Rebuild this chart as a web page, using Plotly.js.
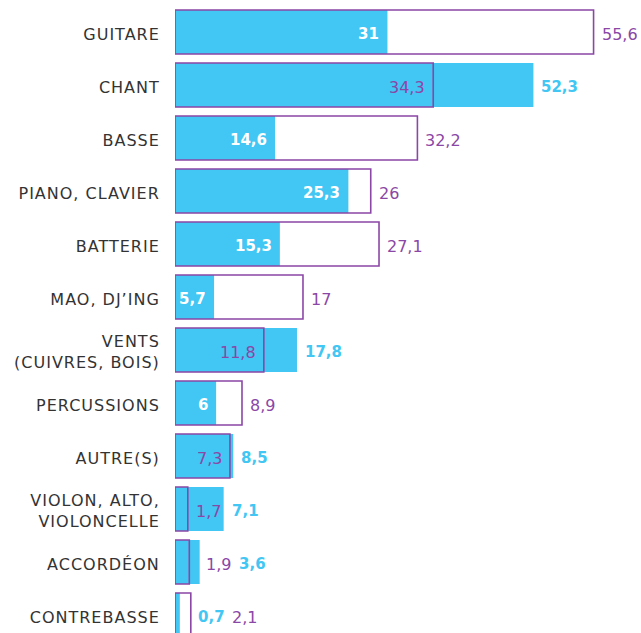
<!DOCTYPE html>
<html>
<head>
<meta charset="utf-8">
<script src="https://cdn.plot.ly/plotly-3.0.1.min.js"></script>
<style>
  html, body { margin: 0; padding: 0; background: #ffffff; }
  #chart { width: 641px; height: 633px; }
  #chart .ytick text { letter-spacing: 1px; }
</style>
</head>
<body>
<div id="chart"></div>
<script>
// ---- data ----
const categories = [
  "GUITARE", "CHANT", "BASSE", "PIANO, CLAVIER", "BATTERIE", "MAO, DJ\u2019ING",
  "VENTS<br>(CUIVRES, BOIS)", "PERCUSSIONS", "AUTRE(S)",
  "VIOLON, ALTO,<br>VIOLONCELLE", "ACCORDÉON", "CONTREBASSE"
];
const blueValues   = [31, 52.3, 14.6, 25.3, 15.3, 5.7, 17.8, 6, 8.5, 7.1, 3.6, 0.7];
const purpleValues = [55.6, 34.3, 32.2, 26, 27.1, 17, 11.8, 8.9, 7.3, 1.7, 1.9, 2.1];

// ---- style ----
const BLUE = "#42C6F3";
const PURPLE = "#8B47A6";
const FONT = "DejaVu Sans";
const LABEL_SIZE = 16;
const BOLD_SIZE = 15;
const REG_SIZE = 16;

const W = 641, H = 633, ML = 175;
const plotW = W - ML;
const blueMax = 68.0;      // blue scale
const purpleMax = 61.9;    // purple scale
const kb = plotW / blueMax, kp = plotW / purpleMax;

const fmt = v => String(v).replace(".", ",");
const ctx = document.createElement("canvas").getContext("2d");
function measure(txt, bold) {
  ctx.font = (bold ? "bold " + BOLD_SIZE : REG_SIZE) + "px '" + FONT + "'";
  return ctx.measureText(txt).width;
}

const PAD = 2;
const annotations = [];
function ann(xref, x, y, text, color, bold, anchor, shift) {
  annotations.push({
    xref: xref, yref: "y", x: x, y: y, text: bold ? "<b>" + text + "</b>" : text,
    showarrow: false, xanchor: anchor, yanchor: "middle",
    xshift: anchor === "left" ? shift - PAD : shift + PAD,
    yshift: -2,
    font: { family: FONT, size: bold ? BOLD_SIZE : REG_SIZE, color: color }
  });
}

categories.forEach((c, i) => {
  const b = blueValues[i], p = purpleValues[i];
  const Eb = b * kb, Ep = p * kp;
  const tb = fmt(b), tp = fmt(p);
  const wb = measure(tb, true), wp = measure(tp, false);
  if (b < p) {
    if (Eb >= wb + 10) {
      ann("x", b, c, tb, "#ffffff", true, "right", -8);
      ann("x2", p, c, tp, PURPLE, false, "left", 8);
    } else {
      ann("x2", p, c, tb, BLUE, true, "left", 7);
      ann("x2", p, c, tp, PURPLE, false, "left", 7 + wb + 8);
    }
  } else {
    if (Ep >= wp + 14) {
      ann("x2", p, c, tp, PURPLE, false, "right", -8);
      ann("x", b, c, tb, BLUE, true, "left", 8);
    } else if (Ep + 8 + wp <= Eb) {
      ann("x2", p, c, tp, PURPLE, false, "left", 8);
      ann("x", b, c, tb, BLUE, true, "left", 8);
    } else {
      ann("x", b, c, tp, PURPLE, false, "left", 6);
      ann("x", b, c, tb, BLUE, true, "left", 6 + wp + 8);
    }
  }
});

const traces = [
  {
    type: "bar", orientation: "h", x: blueValues, y: categories,
    xaxis: "x", yaxis: "y", width: 0.83,
    marker: { color: BLUE, line: { width: 0 } },
    hoverinfo: "skip"
  },
  {
    type: "bar", orientation: "h", x: purpleValues, y: categories,
    xaxis: "x2", yaxis: "y", width: 0.83,
    marker: { color: "rgba(0,0,0,0)", line: { color: PURPLE, width: 1.6 } },
    hoverinfo: "skip"
  }
];

const pitch = 53, firstCenter = 32;
const yTop = -firstCenter / pitch;
const yBottom = yTop + H / pitch;

const layout = {
  width: W, height: H,
  margin: { l: ML, r: 0, t: 0, b: 0, pad: 0 },
  paper_bgcolor: "#ffffff", plot_bgcolor: "#ffffff",
  showlegend: false,
  barmode: "overlay",
  xaxis: { range: [0, blueMax], visible: false, fixedrange: true },
  xaxis2: { range: [0, purpleMax], overlaying: "x", visible: false, fixedrange: true },
  yaxis: {
    type: "category", range: [yBottom, yTop],
    showgrid: false, zeroline: false, showline: false,
    ticks: "outside", ticklen: 11, tickcolor: "rgba(0,0,0,0)",
    ticklabelshift: -2,
    tickfont: { family: FONT, size: LABEL_SIZE, color: "#333333" },
    fixedrange: true
  },
  annotations: annotations
};

Plotly.newPlot("chart", traces, layout, { displayModeBar: false, staticPlot: true });
</script>
</body>
</html>
